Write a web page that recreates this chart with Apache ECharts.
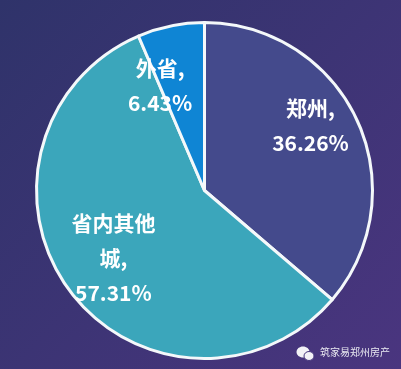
<!DOCTYPE html>
<html><head><meta charset="utf-8">
<style>html,body{margin:0;padding:0;background:#3b3474}#c{width:401px;height:369px}</style>
<script src="https://cdn.jsdelivr.net/npm/echarts@6/dist/echarts.min.js"></script>
</head><body><div id="c"></div>
<script>
const categories = ['郑州', '省内其他\n城', '外省'];
const values = [36.26, 57.31, 6.43];
const colors = ['#444a8c', '#3ba6bb', '#0f85d4'];
const labelOffsets = [[27, -29], [-21, 16], [-27, -20]];
const watermark = '筑家易郑州房产';

const chart = echarts.init(document.getElementById('c'), null, {renderer: 'canvas'});
chart.setOption({
  animation: false,
  backgroundColor: {
    type: 'linear', x: 0, y: 0, x2: 1, y2: 1,
    colorStops: [{offset: 0, color: '#2f336a'}, {offset: 1, color: '#4a357f'}]
  },
  series: [{
    type: 'pie',
    center: [204.5, 190.5],
    radius: [0, 168],
    startAngle: 90,
    clockwise: true,
    silent: true,
    itemStyle: {borderColor: '#f4f8fa', borderWidth: 3},
    labelLine: {show: false},
    label: {
      position: 'inside',
      color: '#ffffff',
      fontFamily: '"Noto Sans CJK SC", "Noto Sans", sans-serif',
      fontWeight: 'bold',
      fontSize: 21,
      lineHeight: 35,
      align: 'center',
      formatter: p => p.name + ',\n' + p.value.toFixed(2) + '%'
    },
    data: categories.map((name, i) => ({
      name, value: values[i],
      itemStyle: {color: colors[i]},
      label: {offset: labelOffsets[i]}
    }))
  }],
  graphic: [
    {type: 'ellipse', shape: {cx: 303, cy: 352, rx: 6.5, ry: 5.5}, style: {fill: '#f2f2f6'}},
    {type: 'ellipse', shape: {cx: 309, cy: 356, rx: 5, ry: 4.5}, style: {fill: '#f2f2f6', stroke: '#44357c', lineWidth: 1}},
    {type: 'text', left: 320, top: 347, style: {text: watermark, fill: '#e8e8f0', fontSize: 10, fontFamily: '"Noto Sans CJK SC", sans-serif'}}
  ]
});
</script></body></html>
